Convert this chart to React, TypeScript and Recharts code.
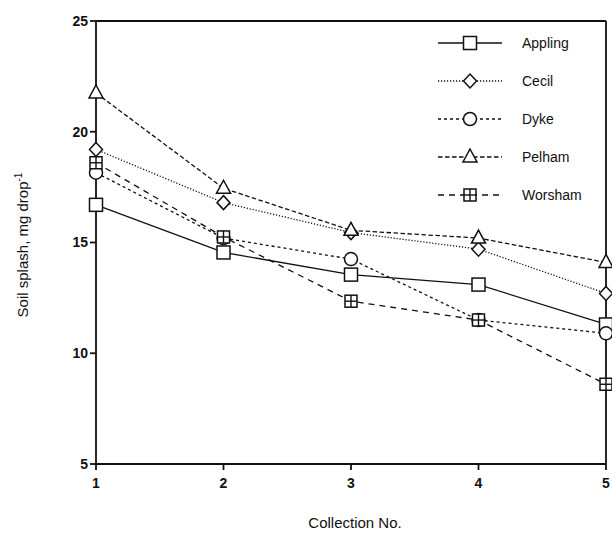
import React from "react";
import { Label, Line, LineChart, ReferenceLine, XAxis, YAxis } from "recharts";

// Soil splash per collection, five soils.
const collections = [1, 2, 3, 4, 5];
const appling = [16.7, 14.55, 13.55, 13.1, 11.3];
const cecil = [19.2, 16.8, 15.45, 14.7, 12.7];
const dyke = [18.15, 15.2, 14.25, 11.5, 10.9];
const pelham = [21.75, 17.45, 15.55, 15.2, 14.1];
const worsham = [18.6, 15.25, 12.35, 11.5, 8.6];
const yTicks = [5, 10, 15, 20, 25];

const data = collections.map((c, i) => ({
  c,
  Appling: appling[i],
  Cecil: cecil[i],
  Dyke: dyke[i],
  Pelham: pelham[i],
  Worsham: worsham[i],
}));

const INK = "#111";
const FONT = "'Liberation Sans', Arial, Helvetica, sans-serif";

type Shape = "square" | "diamond" | "circle" | "triangle" | "crossSquare";

function Marker({ shape, cx, cy }: { shape: Shape; cx: number; cy: number }) {
  const s = 6.5;
  const common = { fill: "#fff", stroke: INK, strokeWidth: 1.5 };
  if (shape === "square") return <rect x={cx - s} y={cy - s} width={2 * s} height={2 * s} {...common} />;
  if (shape === "crossSquare")
    return (
      <g>
        <rect x={cx - s + 0.5} y={cy - s + 0.5} width={2 * s - 1} height={2 * s - 1} {...common} />
        <line x1={cx} y1={cy - s + 0.5} x2={cx} y2={cy + s - 0.5} stroke={INK} strokeWidth={1.4} />
        <line x1={cx - s + 0.5} y1={cy} x2={cx + s - 0.5} y2={cy} stroke={INK} strokeWidth={1.4} />
      </g>
    );
  if (shape === "diamond")
    return <polygon points={`${cx},${cy - 7} ${cx + 6.5},${cy} ${cx},${cy + 7} ${cx - 6.5},${cy}`} {...common} />;
  if (shape === "triangle")
    return <polygon points={`${cx},${cy - 8} ${cx + 7},${cy + 5} ${cx - 7},${cy + 5}`} {...common} />;
  return <circle cx={cx} cy={cy} r={6.5} {...common} />;
}

const series: Array<{ key: string; shape: Shape; dash?: string }> = [
  { key: "Appling", shape: "square" },
  { key: "Cecil", shape: "diamond", dash: "1.2 1.8" },
  { key: "Dyke", shape: "circle", dash: "3 3" },
  { key: "Pelham", shape: "triangle", dash: "4.5 2.5" },
  { key: "Worsham", shape: "crossSquare", dash: "6 5" },
];

// legend drawn as an overlay so it doesn't shrink the plot area
function LegendBox() {
  return (
    <svg width={170} height={180} style={{ position: "absolute", left: 430, top: 30 }}>
      {series.map((s, i) => {
        const y = 13 + i * 38;
        return (
          <g key={s.key}>
            <line x1={8} x2={72} y1={y} y2={y} stroke={INK} strokeWidth={1.3} strokeDasharray={s.dash} />
            <Marker shape={s.shape} cx={40} cy={y} />
            <text x={92} y={y + 5} fontSize={14} fontFamily={FONT} fill={INK}>
              {s.key}
            </text>
          </g>
        );
      })}
    </svg>
  );
}

export default function App() {
  return (
    <div style={{ position: "absolute", left: 0, top: 0, width: 612, height: 544, background: "#fff" }}>
      <LineChart width={612} height={544} data={data} margin={{ top: 21, right: 6, bottom: 50, left: 66 }}>
        <XAxis
          dataKey="c"
          type="number"
          domain={[1, 5]}
          ticks={collections}
          height={30}
          stroke={INK}
          strokeWidth={1.8}
          tickSize={6}
          tick={{ fill: INK, fontSize: 14, fontWeight: 700, fontFamily: FONT, dy: 6 }}
        >
          <Label
            content={() => (
              <text x={355} y={528} textAnchor="middle" fontSize={15} fontFamily={FONT} fill={INK}>
                Collection No.
              </text>
            )}
          />
        </XAxis>
        <YAxis
          type="number"
          domain={[5, 25]}
          ticks={yTicks}
          width={30}
          stroke={INK}
          strokeWidth={1.8}
          tickSize={6}
          tick={{ fill: INK, fontSize: 14, fontWeight: 700, fontFamily: FONT }}
        >
          <Label
            content={() => (
              <text transform="translate(28,245) rotate(-90)" textAnchor="middle" fontSize={15} fontFamily={FONT} fill={INK}>
                Soil splash, mg drop
                <tspan dy={-6} fontSize={10}>-1</tspan>
              </text>
            )}
          />
        </YAxis>
        <ReferenceLine y={25} stroke={INK} strokeWidth={1.8} />
        <ReferenceLine x={5} stroke={INK} strokeWidth={1.8} />
        {series.map((s) => (
          <Line
            key={s.key}
            dataKey={s.key}
            type="linear"
            stroke={INK}
            strokeWidth={1.3}
            strokeDasharray={s.dash}
            isAnimationActive={false}
            dot={(p: any) => <Marker key={`${s.key}-${p.index}`} shape={s.shape} cx={p.cx} cy={p.cy} />}
            activeDot={false}
          />
        ))}
      </LineChart>
      <LegendBox />
    </div>
  );
}
